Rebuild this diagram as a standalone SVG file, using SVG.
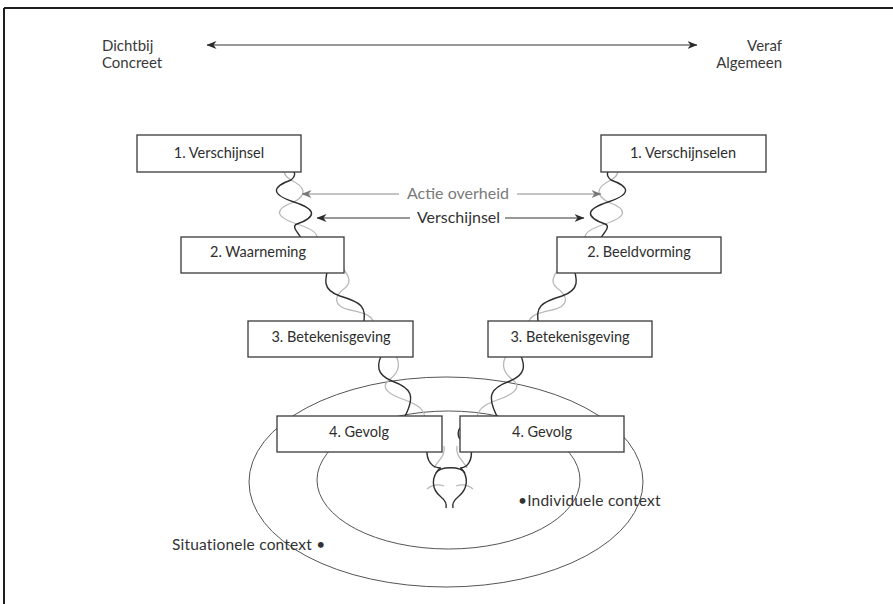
<svg xmlns="http://www.w3.org/2000/svg" xmlns:xlink="http://www.w3.org/1999/xlink" width="893" height="604" viewBox="0 0 893 604">
  <style>
    text { font-family: "Lato", "Noto Sans", sans-serif; }
    .frame { stroke: #1e1e1e; stroke-width: 2; fill: none; }
    .box { fill: #ffffff; stroke: #3a3a3a; stroke-width: 1.3; }
    .lbl { font-size: 14.5px; fill: #2e2e2e; text-anchor: middle; }
    .axis { font-size: 15px; fill: #3a3a3a; }
    .ctx { font-size: 15.5px; fill: #333333; letter-spacing: 0.2px; }
    .ring { fill: none; stroke: #555555; stroke-width: 1; }
    .dark { fill: none; stroke: #2e2e2e; stroke-width: 1.4; }
    .light { fill: none; stroke: #b8b8b8; stroke-width: 1.3; }
    .arr-dark { stroke: #333333; stroke-width: 1; }
    .arr-grey { stroke: #8a8a8a; stroke-width: 1; }
  </style>
  <defs>
    <marker id="headDark" viewBox="0 0 10 8" refX="9.5" refY="4" markerWidth="10" markerHeight="8" markerUnits="userSpaceOnUse" orient="auto-start-reverse">
      <path d="M0,0 L10,4 L0,8 L3,4 z" fill="#2a2a2a"/>
    </marker>
    <marker id="headGrey" viewBox="0 0 10 8" refX="9.5" refY="4" markerWidth="10" markerHeight="8" markerUnits="userSpaceOnUse" orient="auto-start-reverse">
      <path d="M0,0 L10,4 L0,8 L3,4 z" fill="#777777"/>
    </marker>
    <!-- twisted strands of one branch (left); the right branch reuses them mirrored -->
    <g id="strandsLight">
      <path d="M288,166 q -8.5,7 3,14 q 22.5,11 3,22 q -30.5,11 3,22 q 34.5,11 9,22"/>
      <path d="M338,262 C346,272 354,281 345,288 C334,296 332,306 350,310 C364,313 374,315 374,326"/>
      <path d="M392,350 C402,362 400,372 389,380 C379,388 390,395 405,400 C419,405 425,410 425,420"/>
    </g>
    <g id="strandsDark">
      <path d="M288,166 q 11.5,7 3,14 q -30.5,11 3,22 q 33.5,11 3,22 C289.4,226.8 302,236 306,246"/>
      <path d="M330,262 C324,280 322,290 340,296 C360,302 368,306 363,326"/>
      <path d="M384,350 C375,366 377,375 392,381 C411,388 417,395 403,420"/>
    </g>
  </defs>

  <!-- frame -->
  <g id="frame">
    <line class="frame" x1="4" y1="8" x2="893" y2="8"/>
    <line class="frame" x1="4" y1="8" x2="4" y2="604"/>
  </g>

  <!-- context rings -->
  <g id="context">
    <ellipse class="ring" cx="446" cy="482" rx="197" ry="105"/>
    <ellipse class="ring" cx="448.5" cy="480" rx="131.5" ry="69"/>
  </g>

  <!-- connectors: strands between the steps, arrows -->
  <g id="connectors">
    <g class="light">
      <use xlink:href="#strandsLight"/>
      <use xlink:href="#strandsLight" transform="matrix(-1 0 0 1 902 0)"/>
      <path d="M444,446 C446,456 438,460 434,468"/>
      <path d="M457,446 C455,456 463,460 467,468"/>
      <path d="M427,489 C432,485 438,484 444,486"/>
      <path d="M456,486 C462,484 468,485 473,489"/>
    </g>
    <g class="dark">
      <use xlink:href="#strandsDark"/>
      <use xlink:href="#strandsDark" transform="matrix(-1 0 0 1 902 0)"/>
      <path d="M427,448 C426,461 432,468 441,468"/>
      <path d="M471,448 C473,461 467,468 460,468"/>
      <path d="M436,473 C440,466 461,466 465,473"/>
      <path d="M440,468 C431,477 431,489 441,497 C446,501 447,504 446,508"/>
      <path d="M461,468 C469,477 468,489 458,497 C453,501 452,504 453,508"/>
      <path d="M460,428 C457.5,431 457.5,436 460,439"/>
    </g>
    <line class="arr-dark" x1="207" y1="45" x2="697" y2="45" marker-start="url(#headDark)" marker-end="url(#headDark)"/>
    <line class="arr-grey" x1="399" y1="194" x2="302" y2="194" marker-end="url(#headGrey)"/>
    <line class="arr-grey" x1="517" y1="194" x2="601" y2="194" marker-end="url(#headGrey)"/>
    <line class="arr-dark" x1="410" y1="218" x2="317" y2="218" marker-end="url(#headDark)"/>
    <line class="arr-dark" x1="505" y1="218" x2="584" y2="218" marker-end="url(#headDark)"/>
  </g>

  <!-- steps, left branch -->
  <g id="l-verschijnsel">
    <rect class="box" x="137" y="135" width="164" height="37"/>
    <text class="lbl" x="219" y="158">1. Verschijnsel</text>
  </g>
  <g id="l-waarneming">
    <rect class="box" x="181" y="237" width="163" height="36"/>
    <text class="lbl" x="258" y="257">2. Waarneming</text>
  </g>
  <g id="l-betekenisgeving">
    <rect class="box" x="248" y="321" width="165" height="36"/>
    <text class="lbl" x="331" y="342">3. Betekenisgeving</text>
  </g>
  <g id="l-gevolg">
    <rect class="box" x="277" y="416" width="165" height="36"/>
    <text class="lbl" x="359" y="437">4. Gevolg</text>
  </g>

  <!-- steps, right branch -->
  <g id="r-verschijnselen">
    <rect class="box" x="601" y="135" width="165" height="37"/>
    <text class="lbl" x="683" y="158">1. Verschijnselen</text>
  </g>
  <g id="r-beeldvorming">
    <rect class="box" x="557" y="237" width="164" height="36"/>
    <text class="lbl" x="639" y="257">2. Beeldvorming</text>
  </g>
  <g id="r-betekenisgeving">
    <rect class="box" x="488" y="321" width="164" height="36"/>
    <text class="lbl" x="570" y="342">3. Betekenisgeving</text>
  </g>
  <g id="r-gevolg">
    <rect class="box" x="460" y="416" width="164" height="36"/>
    <text class="lbl" x="542" y="437">4. Gevolg</text>
  </g>

  <!-- axis labels -->
  <g id="near">
    <text class="axis" x="102" y="51">Dichtbij</text>
    <text class="axis" x="102" y="68">Concreet</text>
  </g>
  <g id="far">
    <text class="axis" x="782" y="51" text-anchor="end">Veraf</text>
    <text class="axis" x="782" y="68" text-anchor="end">Algemeen</text>
  </g>
  <text x="458" y="199" font-size="16" fill="#7a7a7a" text-anchor="middle">Actie overheid</text>
  <text x="458.5" y="223" font-size="16" fill="#333333" text-anchor="middle">Verschijnsel</text>

  <!-- context labels -->
  <text class="ctx" x="518" y="506">•Individuele context</text>
  <text class="ctx" x="172" y="550">Situationele context •</text>
</svg>
